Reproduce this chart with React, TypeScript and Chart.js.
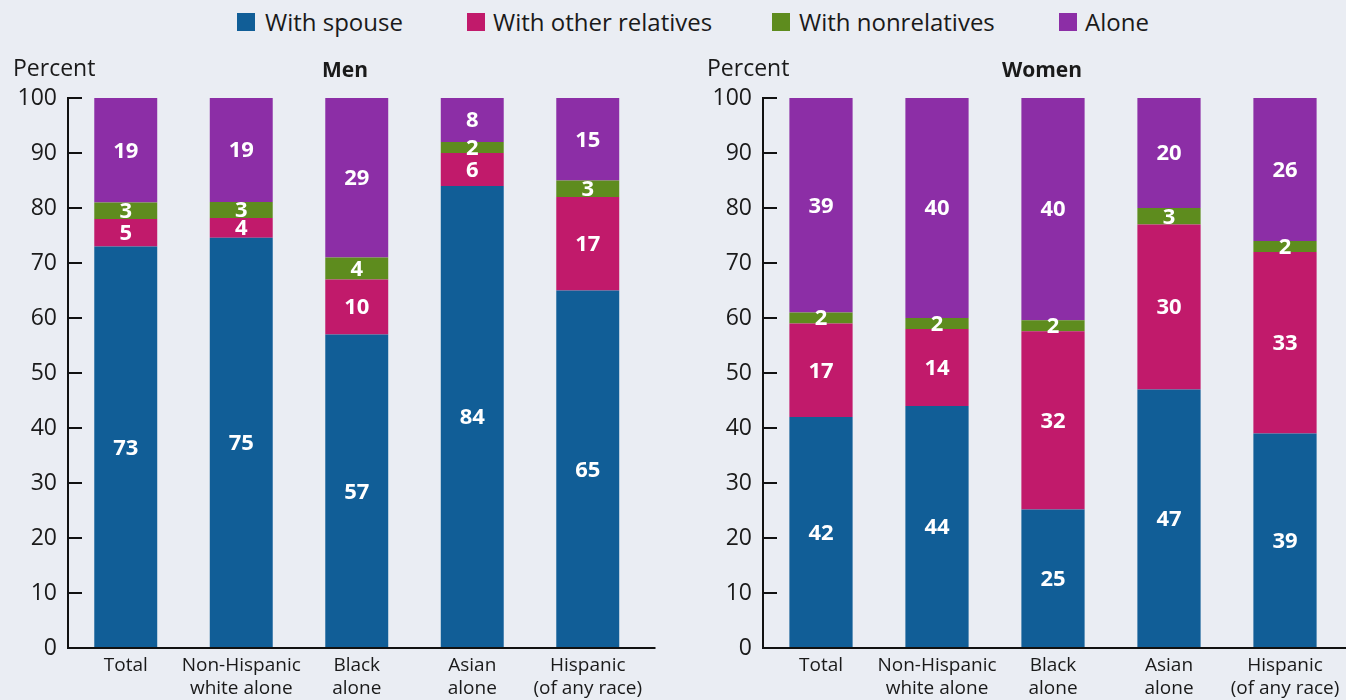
import React, { useEffect, useRef } from "react";
import { Chart, registerables } from "chart.js";

Chart.register(...registerables);

const categories: string[][] = [
  ["Total"],
  ["Non-Hispanic", "white alone"],
  ["Black", "alone"],
  ["Asian", "alone"],
  ["Hispanic", "(of any race)"],
];
const seriesNames = ["With spouse", "With other relatives", "With nonrelatives", "Alone"];
const seriesColors = ["#115e97", "#c11a6b", "#5e8c1e", "#8c2ea6"];

const menSpouse = [73, 74.6, 57, 84, 65];
const menOtherRelatives = [5, 3.6, 10, 6, 17];
const menNonrelatives = [3, 2.9, 4, 2, 3];
const menAlone = [19, 18.9, 29, 8, 15];

const womenSpouse = [42, 44, 25.2, 47, 39];
const womenOtherRelatives = [17, 14, 32.4, 30, 33];
const womenNonrelatives = [2, 2, 2, 3, 2];
const womenAlone = [39, 40, 40.4, 20, 26];

const yTicks = [0, 10, 20, 30, 40, 50, 60, 70, 80, 90, 100];

const FONT = "'Open Sans', 'DejaVu Sans', sans-serif";

const axisPlugin = {
  id: "customAxes",
  afterDraw(chart: any, _args: any, opts: any) {
    const { ctx, chartArea } = chart;
    const { left, top, right, bottom } = chartArea;
    const y = chart.scales.y;
    ctx.save();
    ctx.strokeStyle = "#111";
    ctx.lineWidth = 2;
    ctx.beginPath();
    ctx.moveTo(left, top);
    ctx.lineTo(left, bottom);
    ctx.lineTo(right + (opts.extend || 0), bottom);
    ctx.stroke();
    ctx.beginPath();
    yTicks.forEach((v) => {
      if (v === 0) return;
      const py = Math.round(y.getPixelForValue(v));
      ctx.moveTo(left - 1, py);
      ctx.lineTo(left + 14, py);
    });
    ctx.stroke();
    ctx.restore();
  },
};

const labelPlugin = {
  id: "segLabels",
  afterDatasetsDraw(chart: any) {
    const { ctx } = chart;
    ctx.save();
    ctx.fillStyle = "#ffffff";
    ctx.font = `bold 22px ${FONT}`;
    ctx.textAlign = "center";
    ctx.textBaseline = "middle";
    chart.data.datasets.forEach((ds: any, di: number) => {
      const meta = chart.getDatasetMeta(di);
      meta.data.forEach((el: any, i: number) => {
        const v = ds.data[i];
        const top = Math.max(el.y, chart.chartArea.top);
        const cy = (top + el.base) / 2;
        ctx.fillText(String(Math.round(v)), el.x, cy + 1);
      });
    });
    ctx.restore();
  },
};

function StackChart(props: {
  series: number[][];
  yWidth: number;
  padRight: number;
  extend: number;
  width: number;
}) {
  const ref = useRef<HTMLCanvasElement | null>(null);
  useEffect(() => {
    if (!ref.current) return;
    const chart = new Chart(ref.current, {
      type: "bar",
      data: {
        labels: categories as any,
        datasets: props.series.map((d, i) => ({
          label: seriesNames[i],
          data: d,
          backgroundColor: seriesColors[i],
          borderWidth: 0,
          categoryPercentage: 1,
          barPercentage: 0.545,
        })),
      },
      options: {
        responsive: false,
        animation: false,
        layout: { padding: { top: 98, bottom: 0, left: 0, right: props.padRight } },
        plugins: {
          legend: { display: false },
          tooltip: { enabled: false },
          customAxes: { extend: props.extend },
        } as any,
        scales: {
          x: {
            stacked: true,
            grid: { display: false, drawTicks: false },
            border: { display: false },
            ticks: {
              color: "#1a1a1a",
              font: { family: FONT, size: 19, lineHeight: 1.2 },
              padding: 6,
              autoSkip: false,
              maxRotation: 0,
              minRotation: 0,
            },
            afterFit: (s: any) => {
              s.height = 52;
            },
          },
          y: {
            stacked: true,
            min: 0,
            max: 100,
            afterBuildTicks: (s: any) => {
              s.ticks = yTicks.map((v) => ({ value: v }));
            },
            grid: { display: false, drawTicks: false },
            border: { display: false },
            ticks: {
              color: "#1a1a1a",
              font: { family: FONT, size: 23 },
              padding: 11,
            },
            afterFit: (s: any) => {
              s.width = props.yWidth;
            },
          },
        },
      },
      plugins: [axisPlugin, labelPlugin],
    });
    return () => chart.destroy();
  }, []);
  return <canvas ref={ref} width={props.width} height={700} style={{ display: "block" }} />;
}

const legendItems = [
  { sq: 237, text: 265 },
  { sq: 467, text: 493 },
  { sq: 772, text: 799 },
  { sq: 1059, text: 1085 },
];

export default function App() {
  return (
    <div
      style={{
        position: "fixed",
        left: 0,
        top: 0,
        width: 1346,
        height: 700,
        background: "#eaedf3",
        overflow: "hidden",
        fontFamily: FONT,
        color: "#1a1a1a",
      }}
    >
      {legendItems.map((it, i) => (
        <React.Fragment key={i}>
          <div
            style={{
              position: "absolute",
              left: it.sq,
              top: 13,
              width: 18,
              height: 18,
              background: seriesColors[i],
            }}
          />
          <div
            style={{
              position: "absolute",
              left: it.text,
              top: 4,
              fontSize: 24,
              lineHeight: "36px",
              whiteSpace: "nowrap",
            }}
          >
            {seriesNames[i]}
          </div>
        </React.Fragment>
      ))}
      <div style={{ position: "absolute", left: 0, top: 0 }}>
        <StackChart
          series={[menSpouse, menOtherRelatives, menNonrelatives, menAlone]}
          yWidth={68}
          padRight={34.5}
          extend={10}
          width={680}
        />
      </div>
      <div style={{ position: "absolute", left: 680, top: 0 }}>
        <StackChart
          series={[womenSpouse, womenOtherRelatives, womenNonrelatives, womenAlone]}
          yWidth={83}
          padRight={3}
          extend={3}
          width={666}
        />
      </div>
      <div style={{ position: "absolute", left: 13, top: 50, fontSize: 23, lineHeight: "34px" }}>Percent</div>
      <div style={{ position: "absolute", left: 707, top: 50, fontSize: 23, lineHeight: "34px" }}>Percent</div>
      <div
        style={{
          position: "absolute",
          left: 245,
          width: 200,
          top: 52,
          textAlign: "center",
          fontSize: 21,
          fontWeight: 700,
          lineHeight: "34px",
        }}
      >
        Men
      </div>
      <div
        style={{
          position: "absolute",
          left: 942,
          width: 200,
          top: 52,
          textAlign: "center",
          fontSize: 21,
          fontWeight: 700,
          lineHeight: "34px",
        }}
      >
        Women
      </div>
    </div>
  );
}
